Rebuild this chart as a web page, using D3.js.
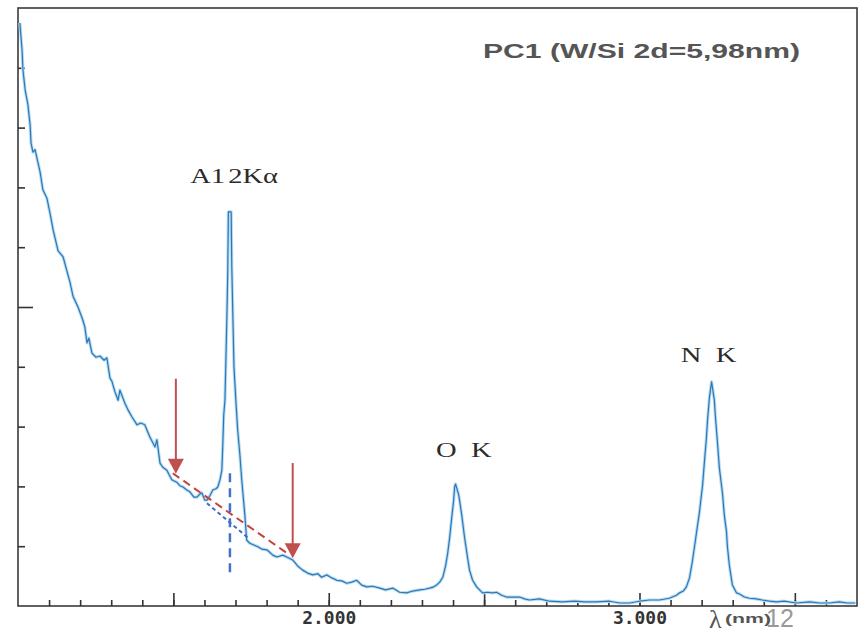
<!DOCTYPE html>
<html>
<head>
<meta charset="utf-8">
<script src="https://cdn.jsdelivr.net/npm/d3@7/dist/d3.min.js"></script>
<style>
  body { margin: 0; background: #fff; }
</style>
</head>
<body>
<div id="chart"></div>
<script>
// spectrum (wavelength in nm, intensity in arbitrary units)
var wavelength = [
  1.006, 1.013, 1.016, 1.023, 1.032, 1.039, 1.042, 1.048, 1.055, 1.061,
  1.071, 1.080, 1.093, 1.103, 1.113, 1.129, 1.145, 1.158, 1.167, 1.177,
  1.193, 1.206, 1.215, 1.222, 1.228, 1.238, 1.251, 1.264, 1.277, 1.286,
  1.296, 1.302, 1.312, 1.322, 1.328, 1.344, 1.354, 1.367, 1.383, 1.395,
  1.408, 1.424, 1.441, 1.447, 1.457, 1.466, 1.479, 1.489, 1.495, 1.511,
  1.521, 1.531, 1.543, 1.553, 1.566, 1.576, 1.585, 1.592, 1.601, 1.608,
  1.617, 1.627, 1.637, 1.643, 1.650, 1.656, 1.659, 1.662, 1.666, 1.669,
  1.672, 1.675, 1.677, 1.686, 1.688, 1.695, 1.701, 1.707, 1.714, 1.720,
  1.730, 1.736, 1.746, 1.759, 1.772, 1.785, 1.801, 1.820, 1.833, 1.852,
  1.865, 1.884, 1.900, 1.916, 1.932, 1.949, 1.965, 1.977, 1.994, 2.010,
  2.026, 2.042, 2.058, 2.074, 2.090, 2.106, 2.122, 2.141, 2.164, 2.183,
  2.206, 2.228, 2.251, 2.270, 2.293, 2.309, 2.325, 2.338, 2.347, 2.357,
  2.367, 2.376, 2.383, 2.389, 2.395, 2.402, 2.405, 2.408, 2.412, 2.418,
  2.421, 2.428, 2.437, 2.447, 2.453, 2.463, 2.476, 2.495, 2.511, 2.527,
  2.540, 2.556, 2.572, 2.592, 2.614, 2.630, 2.646, 2.678, 2.711, 2.752,
  2.791, 2.823, 2.862, 2.904, 2.936, 2.968, 3.000, 3.032, 3.064, 3.096,
  3.119, 3.129, 3.141, 3.151, 3.161, 3.170, 3.180, 3.193, 3.203, 3.209,
  3.215, 3.219, 3.225, 3.232, 3.235, 3.241, 3.244, 3.251, 3.257, 3.267,
  3.273, 3.280, 3.283, 3.289, 3.299, 3.312, 3.322, 3.338, 3.354, 3.376,
  3.395, 3.418, 3.441, 3.466, 3.505, 3.547, 3.579, 3.611, 3.643, 3.669,
  3.695
];
var intensity = [
  9.75, 9.30, 8.96, 8.63, 8.38, 8.04, 7.74, 7.59, 7.63, 7.49,
  7.26, 6.96, 6.82, 6.57, 6.29, 5.94, 5.84, 5.59, 5.42, 5.18,
  5.00, 4.82, 4.67, 4.40, 4.48, 4.23, 4.16, 4.18, 4.11, 4.15,
  3.81, 3.76, 3.58, 3.44, 3.61, 3.39, 3.28, 3.16, 3.03, 3.06,
  3.03, 2.83, 2.66, 2.78, 2.39, 2.32, 2.27, 2.17, 2.11, 2.07,
  2.01, 1.99, 1.94, 1.91, 1.82, 1.82, 1.87, 1.89, 1.77, 1.77,
  1.84, 1.94, 1.96, 1.99, 2.11, 2.27, 2.69, 3.19, 3.44, 4.11,
  4.78, 5.57, 6.59, 6.59, 5.67, 4.00, 3.44, 2.94, 2.53, 2.11,
  1.52, 1.10, 1.05, 1.02, 0.99, 0.95, 0.94, 0.85, 0.82, 0.85,
  0.82, 0.77, 0.67, 0.60, 0.55, 0.52, 0.54, 0.48, 0.52, 0.47,
  0.43, 0.42, 0.38, 0.40, 0.43, 0.35, 0.32, 0.33, 0.30, 0.27,
  0.30, 0.23, 0.22, 0.25, 0.27, 0.28, 0.30, 0.32, 0.35, 0.40,
  0.48, 0.67, 0.89, 1.14, 1.44, 1.77, 1.99, 2.04, 1.97, 1.86,
  1.77, 1.52, 1.15, 0.80, 0.60, 0.43, 0.32, 0.22, 0.23, 0.22,
  0.23, 0.18, 0.15, 0.15, 0.15, 0.12, 0.10, 0.12, 0.08, 0.07,
  0.08, 0.07, 0.07, 0.08, 0.05, 0.05, 0.08, 0.10, 0.10, 0.13,
  0.18, 0.22, 0.25, 0.32, 0.47, 0.74, 1.10, 1.57, 2.02, 2.41,
  2.78, 3.11, 3.48, 3.75, 3.65, 3.44, 3.19, 2.73, 2.31, 1.89,
  1.52, 1.24, 0.99, 0.69, 0.35, 0.22, 0.20, 0.15, 0.13, 0.12,
  0.10, 0.08, 0.07, 0.08, 0.05, 0.07, 0.05, 0.05, 0.07, 0.05,
  0.05
];

// peak labels
var peakNames = ["A12K\u03b1", "O K", "N K"];
var peakNameX = [1.559, 2.350, 3.138];
var peakNameY = [7.07, 2.49, 4.08];

// axis ticks
var majorTicks = [1.5, 2.0, 2.5, 3.0, 3.5];
var labelledTicks = [2.0, 3.0];
var tickLabels = ["2.000", "3.000"];
var minorTicks = d3.range(11, 37).map(function (d) { return d / 10; });
var yTicks = [1, 2, 3, 4, 6, 7, 8, 9];
var yMajorTicks = [5];

// annotations: red arrows, red dashed and blue dotted background lines, blue cut
var arrowX = [1.508, 1.884];
var arrowTop = [3.80, 2.39];
var arrowTip = [2.21, 0.80];
var redDashX = [1.498, 1.875];
var redDashY = [2.22, 0.85];
var blueDotX = [1.608, 1.740];
var blueDotY = [1.72, 1.14];
var cutX = 1.682;
var cutY = [2.22, 0.48];

var width = 861,
  height = 633;

var x = d3.scaleLinear().domain([1.0, 3.7]).range([18, 857]);
var y = d3.scaleLinear().domain([0, 10]).range([606, 8]);

var svg = d3
  .select("#chart")
  .append("svg")
  .attr("width", width)
  .attr("height", height);

var data = wavelength.map(function (w, i) {
  return [w, intensity[i]];
});

// frame
svg
  .append("rect")
  .attr("x", x(1.0))
  .attr("y", y(10))
  .attr("width", x(3.7) - x(1.0))
  .attr("height", y(0) - y(10))
  .attr("fill", "none")
  .attr("stroke", "#3a3a3a")
  .attr("stroke-width", 1.6);

// x axis ticks (pointing inwards)
var xMinor = svg
  .append("g")
  .attr("transform", "translate(0," + y(0) + ")")
  .call(d3.axisBottom(x).tickValues(minorTicks).tickSize(-6).tickFormat(""));

var xMajor = svg
  .append("g")
  .attr("transform", "translate(0," + y(0) + ")")
  .call(
    d3
      .axisBottom(x)
      .tickValues(majorTicks)
      .tickSize(-13)
      .tickPadding(6)
      .tickFormat(function (d) {
        var i = labelledTicks.indexOf(d);
        return i < 0 ? "" : tickLabels[i];
      })
  );

xMajor
  .selectAll("text")
  .attr("font-family", "DejaVu Sans Mono")
  .attr("font-weight", "bold")
  .attr("font-size", 17)
  .attr("fill", "#333")
  .attr("textLength", function () {
    return this.textContent ? 54 : null;
  })
  .attr("lengthAdjust", "spacingAndGlyphs");

// y axis ticks (pointing inwards)
var yMinor = svg
  .append("g")
  .attr("transform", "translate(" + x(1.0) + ",0)")
  .call(d3.axisLeft(y).tickValues(yTicks).tickSize(-7).tickFormat(""));

var yMajor = svg
  .append("g")
  .attr("transform", "translate(" + x(1.0) + ",0)")
  .call(d3.axisLeft(y).tickValues(yMajorTicks).tickSize(-15).tickFormat(""));

svg.selectAll(".domain").remove();
svg
  .selectAll(".tick line")
  .attr("stroke", "#333")
  .attr("stroke-width", 1.6);

// spectrum (soft halo + line, like the scanned plotter trace)
var line = d3
  .line()
  .x(function (d) { return x(d[0]); })
  .y(function (d) { return y(d[1]); });

svg
  .append("path")
  .datum(data)
  .attr("d", line)
  .attr("fill", "none")
  .attr("stroke", "#b5ddf3")
  .attr("stroke-width", 3.2)
  .attr("stroke-linejoin", "round");

svg
  .append("path")
  .datum(data)
  .attr("d", line)
  .attr("fill", "none")
  .attr("stroke", "#2f76b5")
  .attr("stroke-width", 1.2)
  .attr("stroke-linejoin", "round");

// peak labels (typewriter style: each character centred on a fixed pitch, glyphs widened)
var pitch = 17.5,
  stretch = 1.3;
peakNames.forEach(function (name, i) {
  svg
    .append("g")
    .attr("transform", "translate(" + x(peakNameX[i]) + "," + y(peakNameY[i]) + ") scale(" + stretch + ",1)")
    .append("text")
    .attr("x", name.split("").map(function (c, k) { return ((k + 0.5) * pitch) / stretch; }).join(" "))
    .attr("y", 0)
    .attr("text-anchor", "middle")
    .attr("font-family", "Liberation Serif")
    .attr("font-size", 22)
    .attr("fill", "#2b2b2b")
    .text(name);
});

// red dashed background line between the arrows
svg
  .append("line")
  .attr("x1", x(redDashX[0]))
  .attr("y1", y(redDashY[0]))
  .attr("x2", x(redDashX[1]))
  .attr("y2", y(redDashY[1]))
  .attr("stroke", "#c8413b")
  .attr("stroke-width", 2)
  .attr("stroke-dasharray", "8,5");

// blue dotted background line
svg
  .append("line")
  .attr("x1", x(blueDotX[0]))
  .attr("y1", y(blueDotY[0]))
  .attr("x2", x(blueDotX[1]))
  .attr("y2", y(blueDotY[1]))
  .attr("stroke", "#3f6fc6")
  .attr("stroke-width", 2)
  .attr("stroke-dasharray", "4,3");

// vertical blue dashed cut
svg
  .append("line")
  .attr("x1", x(cutX))
  .attr("y1", y(cutY[0]))
  .attr("x2", x(cutX))
  .attr("y2", y(cutY[1]))
  .attr("stroke", "#4472c4")
  .attr("stroke-width", 2.5)
  .attr("stroke-dasharray", "9,6");

// red arrows
arrowX.forEach(function (ax, i) {
  var px = x(ax),
    tip = y(arrowTip[i]);
  svg
    .append("line")
    .attr("x1", px)
    .attr("y1", y(arrowTop[i]))
    .attr("x2", px)
    .attr("y2", tip - 12)
    .attr("stroke", "#c0504d")
    .attr("stroke-width", 2);
  svg
    .append("path")
    .attr(
      "d",
      "M" + (px - 8) + "," + (tip - 15) + "L" + (px + 8) + "," + (tip - 15) + "L" + px + "," + tip + "Z"
    )
    .attr("fill", "#c0504d");
});

// title
svg
  .append("text")
  .attr("x", 483)
  .attr("y", 58)
  .attr("font-family", "Liberation Sans")
  .attr("font-weight", "bold")
  .attr("font-size", 21)
  .attr("fill", "#555")
  .attr("textLength", 317)
  .attr("lengthAdjust", "spacingAndGlyphs")
  .text("PC1 (W/Si 2d=5,98nm)");

// axis unit and slide page number
svg
  .append("text")
  .attr("x", 709)
  .attr("y", 628)
  .attr("font-family", "Liberation Serif")
  .attr("font-size", 26)
  .attr("fill", "#555")
  .text("\u03bb");

svg
  .append("text")
  .attr("x", 725)
  .attr("y", 623)
  .attr("font-family", "Liberation Sans")
  .attr("font-weight", "bold")
  .attr("font-size", 13)
  .attr("fill", "#555")
  .attr("textLength", 46)
  .attr("lengthAdjust", "spacingAndGlyphs")
  .text("(nm)");

svg
  .append("text")
  .attr("x", 766)
  .attr("y", 627)
  .attr("font-family", "Liberation Sans")
  .attr("font-size", 25)
  .attr("fill", "#9a9a9a")
  .text("12");
</script>
</body>
</html>
